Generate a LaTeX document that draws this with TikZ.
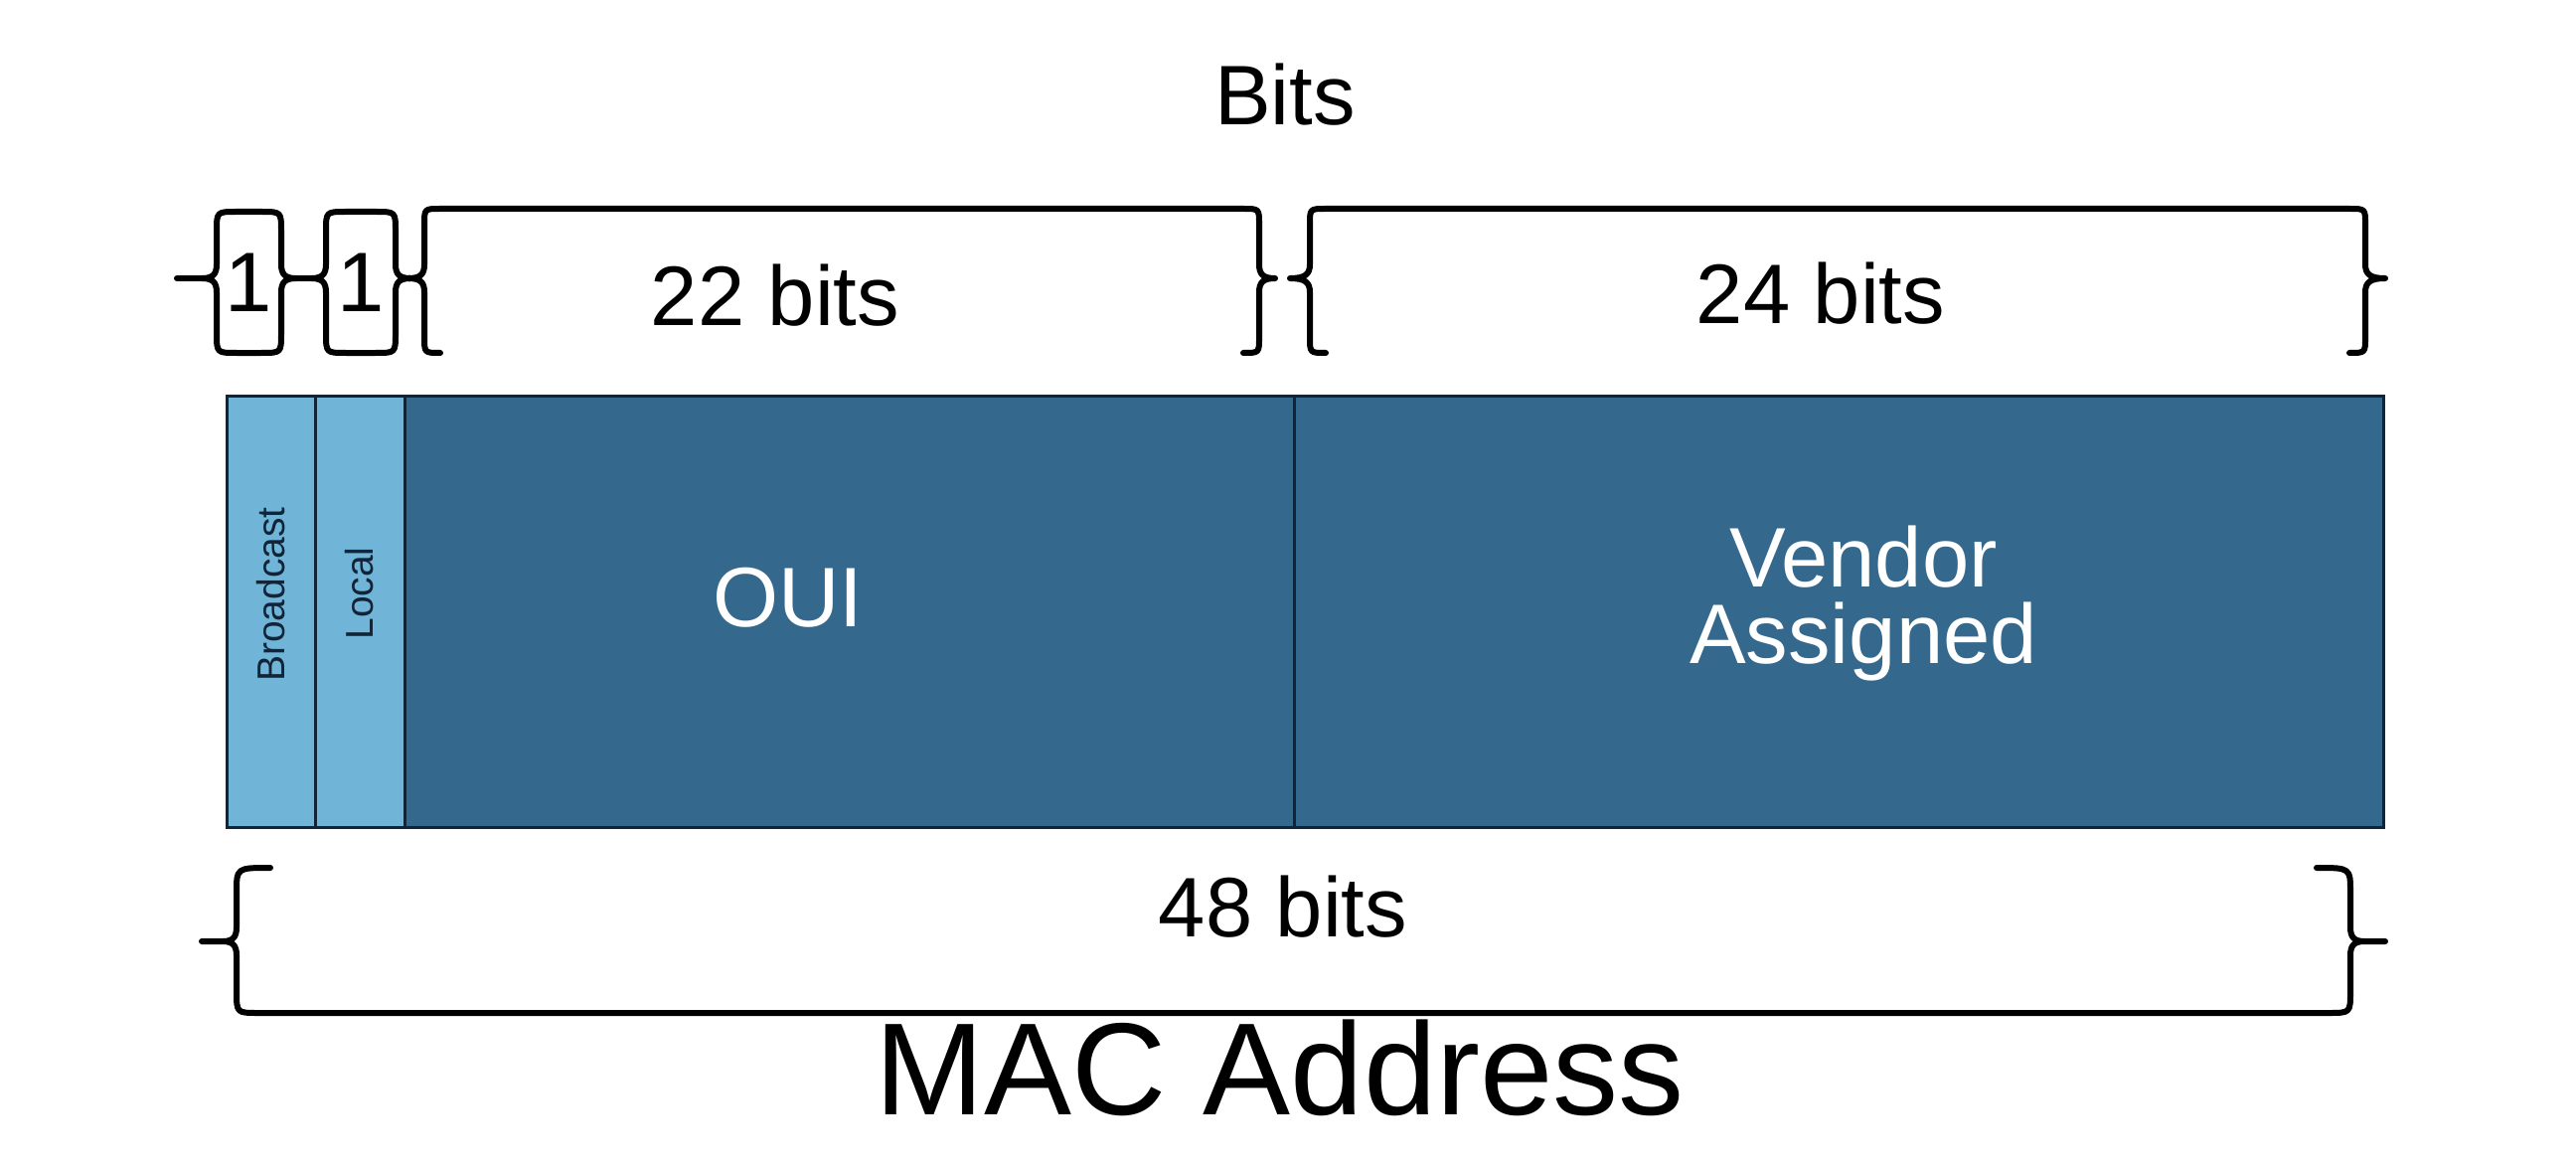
\documentclass[tikz,border=0pt]{standalone}
\usepackage{fontspec}
\setmainfont{Liberation Sans}
\usetikzlibrary{positioning}
\definecolor{lightField}{RGB}{112,181,216}
\definecolor{darkField}{RGB}{52,104,140}
\definecolor{fieldEdge}{RGB}{18,36,56}
\tikzset{fieldLight/.style={draw=fieldEdge, line width=3pt, fill=lightField}}
\tikzset{fieldDark/.style={draw=fieldEdge, line width=3pt, fill=darkField}}
\tikzset{bitBrace/.style={draw=black, line width=6pt, line cap=round, line join=round}}
\tikzset{bitLabel/.style={anchor=base, inner sep=0pt, font=\fontsize{85}{85}\selectfont}}
\tikzset{fieldLabel/.style={text=white, align=center, inner sep=0pt, font=\fontsize{85}{77}\selectfont}}
\tikzset{sideLabel/.style={rotate=90, text=fieldEdge, inner sep=0pt, font=\fontsize{39}{39}\selectfont}}

\begin{document}
\begin{tikzpicture}[x=1pt, y=-1pt]

\fill[white] (0,0) rectangle (2592,1174);
\useasboundingbox (0,0) rectangle (2592,1174);

% address fields
\draw[fieldLight] (228,398) rectangle (317,832);
\draw[fieldLight] (317,398) rectangle (407,832);
\draw[fieldDark] (407,398) rectangle (1302,832);
\draw[fieldDark] (1302,398) rectangle (2398,832);

\node[sideLabel] (bcast) at (273,598) {Broadcast};
\node[sideLabel] (local) at (362,597) {Local};
\node[fieldLabel, anchor=base] (oui) at (793,630) {OUI};
\node[fieldLabel] (vendor) at (1875,607) {Vendor\\Assigned};

% top braces
\draw[bitBrace] (178,280) -- (203,280);
\draw[bitBrace] (238,355) .. controls (218,355) .. (218,335) -- (218,294) .. controls (218,284) and (214,280) .. (203,280) .. controls (214,280) and (218,276) .. (218,266) -- (218,233) .. controls (218,213) .. (238,213) -- (263,213) .. controls (283,213) .. (283,233) -- (283,266) .. controls (283,276) and (287,280) .. (298,280) .. controls (287,280) and (283,284) .. (283,294) -- (283,335) .. controls (283,355) .. (263,355) -- cycle;
\draw[bitBrace] (298,280) -- (313,280);
\draw[bitBrace] (348,355) .. controls (328,355) .. (328,335) -- (328,294) .. controls (328,284) and (324,280) .. (313,280) .. controls (324,280) and (328,276) .. (328,266) -- (328,233) .. controls (328,213) .. (348,213) -- (378,213) .. controls (398,213) .. (398,233) -- (398,266) .. controls (398,276) and (402,280) .. (413,280) .. controls (402,280) and (398,284) .. (398,294) -- (398,335) .. controls (398,355) .. (378,355) -- cycle;
\draw[bitBrace] (443,355) .. controls (427,355) .. (427,339) -- (427,294) .. controls (427,284) and (423,280) .. (411,280) .. controls (423,280) and (427,276) .. (427,266) -- (427,226) .. controls (427,210) .. (443,210) -- (1251,210) .. controls (1267,210) .. (1267,226) -- (1267,266) .. controls (1267,276) and (1271,280) .. (1283,280) .. controls (1271,280) and (1267,284) .. (1267,294) -- (1267,339) .. controls (1267,355) .. (1251,355);
\draw[bitBrace] (1334,355) .. controls (1318,355) .. (1318,339) -- (1318,294) .. controls (1318,284) and (1313,280) .. (1298,280) .. controls (1313,280) and (1318,276) .. (1318,266) -- (1318,226) .. controls (1318,210) .. (1334,210) -- (2364,210) .. controls (2380,210) .. (2380,226) -- (2380,266) .. controls (2380,276) and (2385,280) .. (2400,280) .. controls (2385,280) and (2380,284) .. (2380,294) -- (2380,339) .. controls (2380,355) .. (2364,355);

% bottom brace
\draw[bitBrace] (272,873) .. controls (238,873) .. (238,898) -- (238,933) .. controls (238,943) and (234,947) .. (224,947) -- (203,947) -- (224,947) .. controls (234,947) and (238,951) .. (238,961) -- (238,997) .. controls (238,1019) .. (260,1019) -- (2343,1019) .. controls (2365,1019) .. (2365,997) -- (2365,961) .. controls (2365,951) and (2369,947) .. (2379,947) -- (2400,947) -- (2379,947) .. controls (2369,947) and (2365,943) .. (2365,933) -- (2365,898) .. controls (2365,873) .. (2331,873);

% labels
\node[bitLabel] (bitsTitle) at (1293,126) {Bits};
\node[bitLabel] (oneBcast) at (250,314) {1};
\node[bitLabel] (oneLocal) at (363,314) {1};
\node[bitLabel] (ouiBits) at (780,327) {22 bits};
\node[bitLabel] (vendorBits) at (1832,326) {24 bits};
\node[bitLabel] (macBits) at (1291,942) {48 bits};
\node[bitLabel, font=\fontsize{132}{132}\selectfont] (macTitle) at (1288,1121) {MAC Address};

\end{tikzpicture}
\end{document}
